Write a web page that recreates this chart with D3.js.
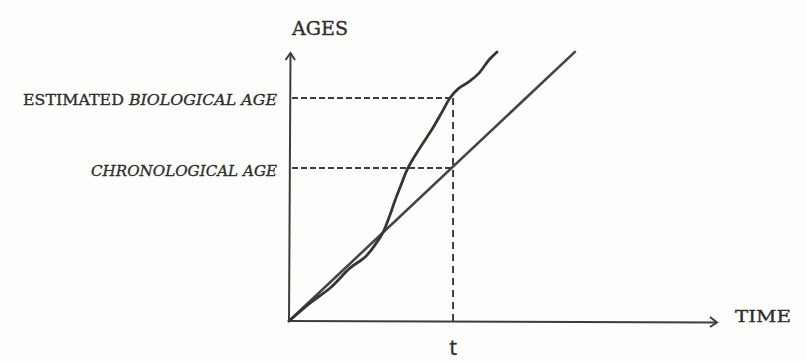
<!DOCTYPE html>
<html>
<head>
<meta charset="utf-8">
<script src="https://cdn.jsdelivr.net/npm/d3@7"></script>
<style>
  body { margin: 0; background: #fdfdfc; }
  svg { display: block; }
  text { fill: #2f2f2f; stroke: #2f2f2f; stroke-width: 0.35px; }
</style>
</head>
<body>
<div id="chart"></div>
<script>
// chronological age grows 1:1 with time
var chronoLine = [[0, 0], [66.8, 100.4]];

// estimated biological age
var bioTime = [0, 4.9, 9.6, 14.3, 17.8, 20.1, 22.0, 23.6, 24.8, 25.9, 27.8, 30.6, 33.6, 36.0, 37.6, 39.7, 42.0, 44.4, 46.7, 48.6];
var bioAge  = [0, 6.7, 12.3, 19.8, 23.9, 28.4, 33.2, 39.6, 45.1, 49.6, 57.1, 64.6, 72.0, 78.7, 83.2, 86.9, 89.2, 92.5, 97.4, 100.4];

// marked point in time and the two ages read at it
var tMark = 38.1;
var ageLabels = ["ESTIMATED ", "BIOLOGICAL AGE", "CHRONOLOGICAL AGE"];
var ageValues = [83.2, 57.1];

var width = 807, height = 361;

var svg = d3.select("#chart").append("svg")
        .attr("width", width)
        .attr("height", height);

var x = d3.scaleLinear().domain([0, 100]).range([289, 717]);
var y = d3.scaleLinear().domain([0, 100]).range([321, 53]);

var ink = "#3d3d3d";

// axes with arrow heads
svg.append("line")
        .attr("x1", x(0)).attr("y1", y(0))
        .attr("x2", x(0) + 1.5).attr("y2", y(100))
        .attr("stroke", ink).attr("stroke-width", 2);
svg.append("path")
        .attr("d", "M" + (x(0) - 3.5) + "," + (y(100) + 7) + "L" + (x(0) + 1.5) + "," + y(100) + "L" + (x(0) + 6) + "," + (y(100) + 7))
        .attr("fill", "none").attr("stroke", ink).attr("stroke-width", 2);

svg.append("line")
        .attr("x1", x(0)).attr("y1", y(0))
        .attr("x2", x(100)).attr("y2", y(0) + 1.5)
        .attr("stroke", ink).attr("stroke-width", 2);
svg.append("path")
        .attr("d", "M" + (x(100) - 7) + "," + (y(0) - 4) + "L" + x(100) + "," + (y(0) + 1.5) + "L" + (x(100) - 7) + "," + (y(0) + 6))
        .attr("fill", "none").attr("stroke", ink).attr("stroke-width", 2);

// dashed guides
var dash = "6,3";
ageValues.forEach(function(v) {
        svg.append("line")
                .attr("x1", x(0) + 3).attr("y1", y(v))
                .attr("x2", x(tMark)).attr("y2", y(v))
                .attr("stroke", ink).attr("stroke-width", 2)
                .attr("stroke-dasharray", dash);
        });
svg.append("line")
        .attr("x1", x(tMark) + 1).attr("y1", y(ageValues[0]))
        .attr("x2", x(tMark) + 1).attr("y2", y(0))
        .attr("stroke", ink).attr("stroke-width", 2)
        .attr("stroke-dasharray", "7,5");

// chronological straight line
svg.append("path")
        .datum(chronoLine)
        .attr("d", d3.line().x(function(d) { return x(d[0]); }).y(function(d) { return y(d[1]); }))
        .attr("fill", "none").attr("stroke", "#454545").attr("stroke-width", 2.6)
        .attr("stroke-linecap", "round");

// biological curve
var bio = bioTime.map(function(t, i) { return [t, bioAge[i]]; });
svg.append("path")
        .datum(bio)
        .attr("d", d3.line()
                .x(function(d) { return x(d[0]); })
                .y(function(d) { return y(d[1]); })
                .curve(d3.curveCatmullRom))
        .attr("fill", "none").attr("stroke", "#363636").attr("stroke-width", 2.8)
        .attr("stroke-linecap", "round").attr("stroke-linejoin", "round");

// labels
var serif = "'DejaVu Serif', 'Liberation Serif', serif";

svg.append("text")
        .attr("x", 292).attr("y", 35)
        .attr("font-family", serif).attr("font-size", 19)
        .attr("textLength", 56).attr("lengthAdjust", "spacingAndGlyphs")
        .text("AGES");

var bioLabel = svg.append("text")
        .attr("x", 23).attr("y", 105)
        .attr("font-family", serif).attr("font-size", 15)
        .attr("textLength", 254).attr("lengthAdjust", "spacingAndGlyphs");
bioLabel.append("tspan").text(ageLabels[0]);
bioLabel.append("tspan").attr("font-style", "italic").text(ageLabels[1]);

svg.append("text")
        .attr("x", 91).attr("y", 176)
        .attr("font-family", serif).attr("font-size", 15).attr("font-style", "italic")
        .attr("textLength", 186).attr("lengthAdjust", "spacingAndGlyphs")
        .text(ageLabels[2]);

svg.append("text")
        .attr("x", 735).attr("y", 322)
        .attr("font-family", serif).attr("font-size", 17)
        .attr("textLength", 56).attr("lengthAdjust", "spacingAndGlyphs")
        .text("TIME");

svg.append("text")
        .attr("x", x(tMark) + 1).attr("y", 355)
        .attr("text-anchor", "middle")
        .attr("font-family", "'Open Sans', 'DejaVu Sans', sans-serif").attr("font-size", 22)
        .text("t");
</script>
</body>
</html>
